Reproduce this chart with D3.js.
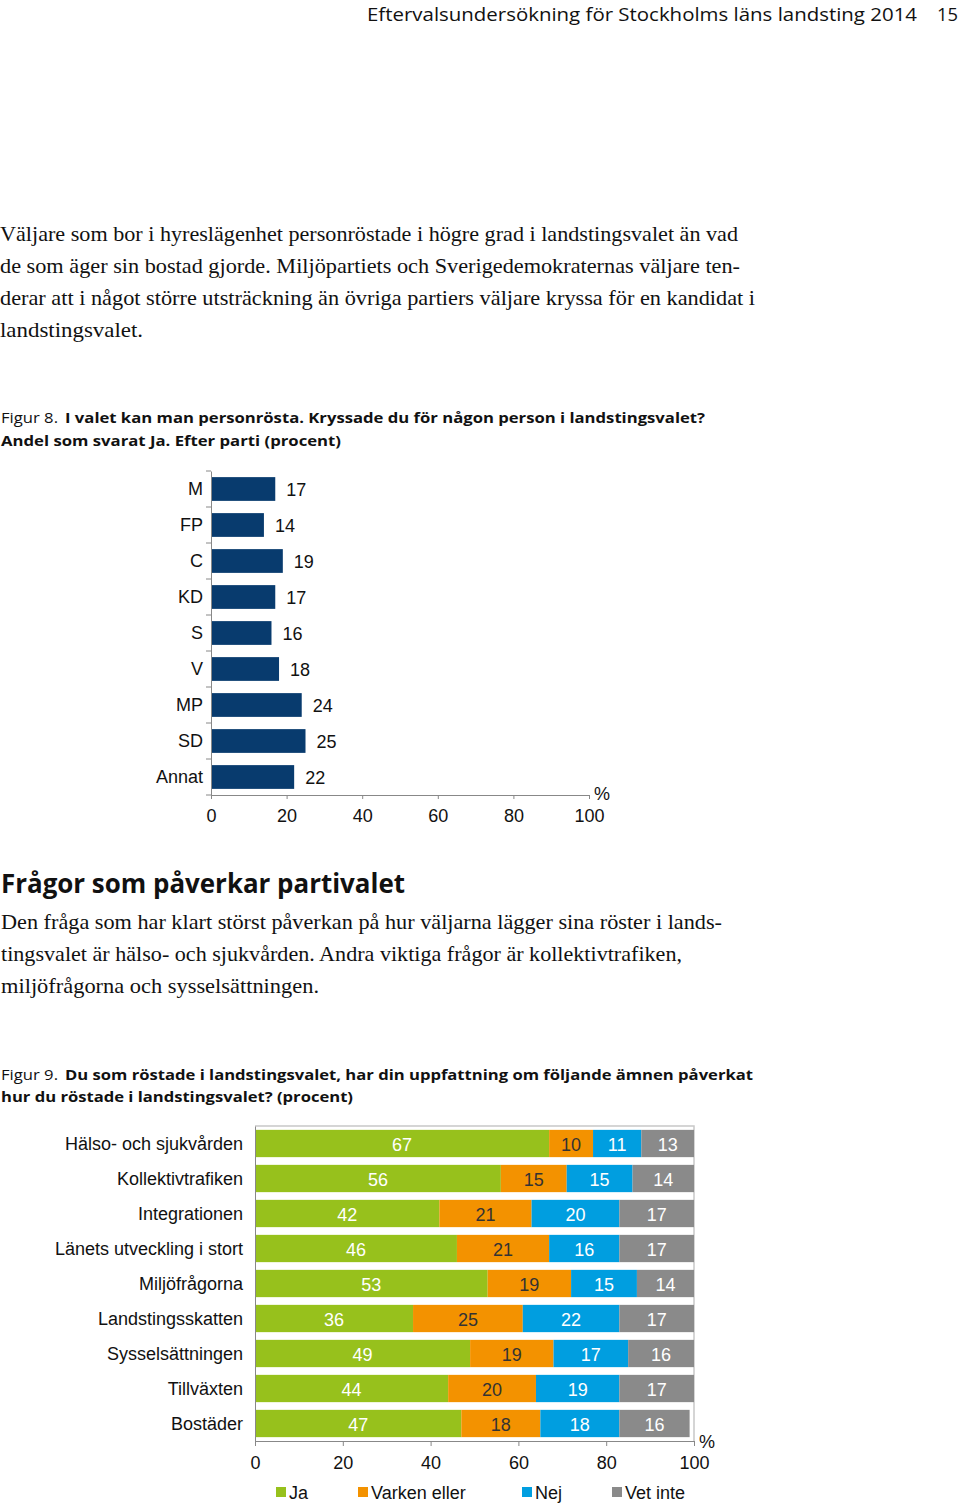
<!DOCTYPE html>
<html><head><meta charset="utf-8">
<script src="https://cdn.jsdelivr.net/npm/d3@7"></script>
<style>body{margin:0;background:#fff}svg{display:block}</style>
</head><body>
<script>
// ---------- DATA ----------
const parties = ["M","FP","C","KD","S","V","MP","SD","Annat"];
const partyValues = [17,14,19,17,16,18,24,25,22];
const xTicks = [0,20,40,60,80,100];

const topics = ["Hälso- och sjukvården","Kollektivtrafiken","Integrationen","Länets utveckling i stort","Miljöfrågorna","Landstingsskatten","Sysselsättningen","Tillväxten","Bostäder"];
const seriesNames = ["Ja","Varken eller","Nej","Vet inte"];
const ja      = [67,56,42,46,53,36,49,44,47];
const varken  = [10,15,21,21,19,25,19,20,18];
const nej     = [11,15,20,16,15,22,17,19,18];
const vetInte = [13,14,17,17,14,17,16,17,16];

const headerText = "Eftervalsundersökning för Stockholms läns landsting 2014";
const pageNo = "15";
const para1 = ["Väljare som bor i hyreslägenhet personröstade i högre grad i landstingsvalet än vad",
  "de som äger sin bostad gjorde. Miljöpartiets och Sverigedemokraternas väljare ten-",
  "derar att i något större utsträckning än övriga partiers väljare kryssa för en kandidat i",
  "landstingsvalet."];
const fig8Caption = ["Figur 8.","I valet kan man personrösta. Kryssade du för någon person i landstingsvalet?","Andel som svarat Ja. Efter parti (procent)"];
const heading = "Frågor som påverkar partivalet";
const para2 = ["Den fråga som har klart störst påverkan på hur väljarna lägger sina röster i lands-",
  "tingsvalet är hälso- och sjukvården. Andra viktiga frågor är kollektivtrafiken,",
  "miljöfrågorna och sysselsättningen."];
const fig9Caption = ["Figur 9.","Du som röstade i landstingsvalet, har din uppfattning om följande ämnen påverkat","hur du röstade i landstingsvalet? (procent)"];

// ---------- SVG ----------
const W = 960, H = 1505;
const svg = d3.select("body").append("svg").attr("width",W).attr("height",H);
svg.append("rect").attr("width",W).attr("height",H).attr("fill","#fff");

const sansC = "'Open Sans', 'Noto Sans', sans-serif";
const serif = "'Liberation Serif', 'DejaVu Serif', serif";
const arial = "'Liberation Sans', Arial, sans-serif";

function fitText(x, y, str, len, size, family, weight, anchor) {
  const t = svg.append("text").attr("x",x).attr("y",y).text(str)
    .attr("font-family",family).attr("font-size",size)
    .attr("font-weight",weight||"normal").attr("fill","#111");
  if (anchor) t.attr("text-anchor",anchor);
  if (len) t.attr("textLength",len).attr("lengthAdjust","spacingAndGlyphs");
  return t;
}

// header
fitText(367, 21, headerText, 550, 19, sansC, "normal");
fitText(937, 21, pageNo, 21, 19, sansC, "normal");

// paragraph 1
const p1Len = [738, 740, 755, 143];
para1.forEach((s,i)=>fitText(0, 241 + i*32, s, p1Len[i], 21, serif));

// fig 8 caption
fitText(1, 423, fig8Caption[0], 57, 15, sansC, "normal");
fitText(65, 423, fig8Caption[1], 640, 15, sansC, "bold");
fitText(1, 446, fig8Caption[2], 340, 15, sansC, "bold");

// heading
fitText(1, 893, heading, 404, 26, sansC, "bold");

// paragraph 2
const p2Len = [721, 681, 318];
para2.forEach((s,i)=>fitText(1, 929 + i*32, s, p2Len[i], 21, serif));

// fig 9 caption
fitText(1, 1080, fig9Caption[0], 57, 15, sansC, "normal");
fitText(65, 1080, fig9Caption[1], 688, 15, sansC, "bold");
fitText(1, 1102, fig9Caption[2], 352, 15, sansC, "bold");

// ---------- FIGURE 8 ----------
{
  const x = d3.scaleLinear().domain([0,100]).range([211,589]);
  const y = d3.scaleBand().domain(parties).range([471,795]).paddingInner(0.34).paddingOuter(0.17);
  const g = svg.append("g");
  g.selectAll("rect.bar").data(parties).join("rect").attr("class","bar")
    .attr("x",x(0)).attr("y",d=>y(d)).attr("height",y.bandwidth())
    .attr("width",(d,i)=>x(partyValues[i])-x(0)).attr("fill","#083b6e");
  g.selectAll("text.val").data(parties).join("text").attr("class","val")
    .attr("x",(d,i)=>x(partyValues[i])+11).attr("y",d=>y(d)+y.bandwidth()/2+7)
    .text((d,i)=>partyValues[i]).attr("font-family",arial).attr("font-size",18).attr("fill","#111");
  const yAxis = d3.axisLeft(y).tickSize(0).tickPadding(8);
  const ga = g.append("g").attr("transform",`translate(${x(0)},0)`).call(yAxis);
  ga.select(".domain").attr("stroke","#888");
  ga.selectAll("text").attr("font-family",arial).attr("font-size",18).attr("fill","#111").attr("dy","0.35em");
  const bounds = parties.map(p=>y(p)-y.step()*y.paddingInner()/2).concat([795]);
  g.selectAll("line.yt").data(bounds).join("line").attr("class","yt")
    .attr("x1",x(0)-5).attr("x2",x(0)).attr("y1",d=>d).attr("y2",d=>d).attr("stroke","#888");
  const xAxis = d3.axisBottom(x).tickValues(xTicks).tickSize(4).tickPadding(10);
  const gx = g.append("g").attr("transform","translate(0,795)").call(xAxis);
  gx.select(".domain").attr("stroke","#888");
  gx.selectAll("line").attr("stroke","#888");
  gx.selectAll("text").attr("font-family",arial).attr("font-size",18).attr("fill","#111");
  g.append("text").attr("x",594).attr("y",800).text("%").attr("font-family",arial).attr("font-size",18).attr("fill","#111");
}

// ---------- FIGURE 9 ----------
{
  const colors = ["#97c11c","#f39200","#009ee0","#8a8a8a"];
  const textColors = ["#fff","#333","#fff","#fff"];
  const rows = topics.map((t,i)=>({topic:t, "Ja":ja[i], "Varken eller":varken[i], "Nej":nej[i], "Vet inte":vetInte[i]}));
  const stack = d3.stack().keys(seriesNames)(rows);
  const x = d3.scaleLinear().domain([0,100]).range([255,694]).clamp(true);
  const y = d3.scaleBand().domain(topics).range([1126,1441]).paddingInner(0.22).paddingOuter(0.11);
  const g = svg.append("g");
  g.append("path").attr("d",`M${x(0)},1126H${x(100)}V1441`).attr("fill","none").attr("stroke","#c8c8c8").attr("stroke-width",1.5);
  const layer = g.selectAll("g.layer").data(stack).join("g").attr("class","layer");
  layer.selectAll("rect").data(d=>d).join("rect")
    .attr("x",d=>x(d[0])).attr("width",d=>x(d[1])-x(d[0]))
    .attr("y",d=>y(d.data.topic)).attr("height",y.bandwidth())
    .attr("fill",function(){return colors[d3.select(this.parentNode).datum().index];});
  layer.selectAll("text").data(d=>d).join("text")
    .attr("x",d=>(x(d[0])+x(d[1]))/2).attr("y",d=>y(d.data.topic)+y.bandwidth()/2+7)
    .attr("text-anchor","middle").text(d=>d[1]-d[0])
    .attr("font-family",arial).attr("font-size",18)
    .attr("fill",function(){return textColors[d3.select(this.parentNode).datum().index];});
  const gy = g.append("g").attr("transform",`translate(${x(0)},0)`).call(d3.axisLeft(y).tickSize(0).tickPadding(12));
  gy.select(".domain").attr("stroke","#888");
  gy.selectAll("text").attr("font-family",arial).attr("font-size",18).attr("fill","#111").attr("dy","0.35em");
  const gx = g.append("g").attr("transform","translate(0,1441)").call(d3.axisBottom(x).tickValues(xTicks).tickSize(5).tickPadding(10));
  gx.select(".domain").attr("stroke","#888");
  gx.selectAll("line").attr("stroke","#888");
  gx.selectAll("text").attr("font-family",arial).attr("font-size",18).attr("fill","#111");
  g.append("text").attr("x",699).attr("y",1448).text("%").attr("font-family",arial).attr("font-size",18).attr("fill","#111");
  const legX = [276,358,522,612];
  const lg = g.selectAll("g.leg").data(seriesNames).join("g").attr("class","leg")
    .attr("transform",(d,i)=>`translate(${legX[i]},1492)`);
  lg.append("rect").attr("x",0).attr("y",-5).attr("width",10).attr("height",10).attr("fill",(d,i)=>colors[i]);
  lg.append("text").attr("x",13).attr("y",7).text(d=>d).attr("font-family",arial).attr("font-size",18).attr("fill","#111");
}
</script>
</body></html>
